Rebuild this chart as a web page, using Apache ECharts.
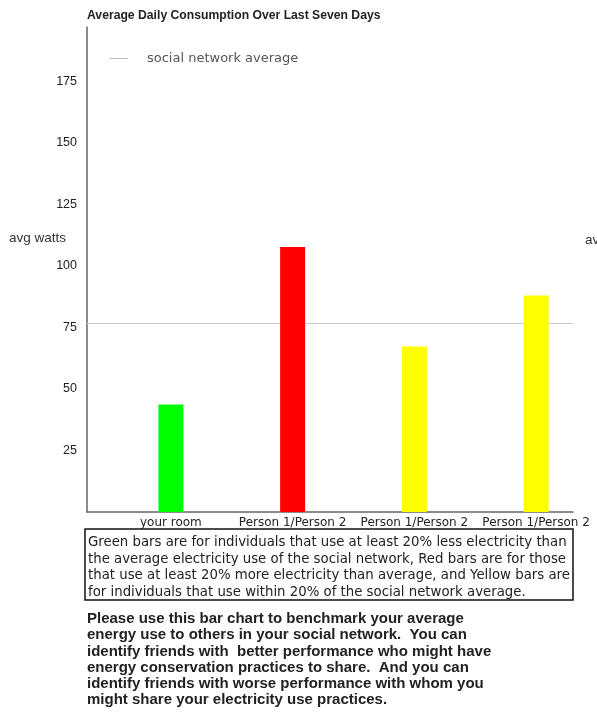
<!DOCTYPE html>
<html>
<head>
<meta charset="utf-8">
<script src="https://cdn.jsdelivr.net/npm/echarts@6/dist/echarts.min.js"></script>
<style>
  html, body { margin: 0; padding: 0; background: #fff; }
  .echarts_1 { width: 597px; height: 713px; }
</style>
</head>
<body>
<div class="echarts_1"></div>
<script>
// data
var categories = ['your room', 'Person 1/Person 2', 'Person 1/Person 2', 'Person 1/Person 2'];
var avgWatts = [43.7, 107.6, 67.2, 87.9];
var barColors = ['#00ff00', '#ff0000', '#ffff00', '#ffff00'];
var networkAverage = 76.6;
var yTicks = [25, 50, 75, 100, 125, 150, 175];

var noteLines = [
  'Green bars are for individuals that use at least 20% less electricity than',
  'the average electricity use of the social network, Red bars are for those',
  'that use at least 20% more electricity than average, and Yellow bars are',
  'for individuals that use within 20% of the social network average.'
];
var adviceLines = [
  'Please use this bar chart to benchmark your average',
  'energy use to others in your social network.  You can',
  'identify friends with  better performance who might have',
  'energy conservation practices to share.  And you can',
  'identify friends with worse performance with whom you',
  'might share your electricity use practices.'
];

var chart = echarts.init(document.querySelector('.echarts_1'));

var font = 'Liberation Sans, Arial, sans-serif';
var dvs = 'DejaVu Sans, sans-serif';

var option = {
  backgroundColor: '#fff',
  animation: false,
  title: {
    text: 'Average Daily Consumption Over Last Seven Days',
    left: 87, top: 10, padding: 0,
    textStyle: { fontFamily: font, fontSize: 12.2, fontWeight: 'bold', color: '#222' }
  },
  legend: {
    data: ['social network average'],
    left: 110, top: 52, padding: 0,
    icon: 'rect', itemWidth: 18, itemHeight: 1,
    textStyle: { fontFamily: dvs, fontSize: 13, color: '#555', padding: [0, 0, 0, 14] }
  },
  grid: [
    { left: 87, right: 24, top: 27, bottom: 201 },
    { left: 110, right: 0, top: 27, bottom: 201 }
  ],
  xAxis: [
    {
      gridIndex: 0, type: 'category', data: categories,
      axisLine: { onZero: false, lineStyle: { color: '#666', width: 1.5 } },
      axisTick: { show: false }, axisLabel: { show: false }
    },
    {
      gridIndex: 1, type: 'category', data: categories,
      axisLine: { show: false }, axisTick: { show: false },
      axisLabel: { interval: 0, margin: 5, fontFamily: dvs, fontSize: 12, color: '#222' }
    }
  ],
  yAxis: [
    {
      gridIndex: 0, type: 'value', min: 0, max: 197,
      axisLine: { show: true, lineStyle: { color: '#666', width: 1.5 } },
      axisTick: { show: false },
      splitLine: { show: false },
      axisLabel: { customValues: yTicks, margin: 10, fontFamily: font, fontSize: 12.5, color: '#222' }
    },
    {
      gridIndex: 1, type: 'value', min: 0, max: 197, show: false
    }
  ],
  series: [
    {
      name: 'social network average',
      type: 'line', xAxisIndex: 0, yAxisIndex: 0,
      data: [],
      z: 1,
      itemStyle: { color: '#bbb' },
      lineStyle: { color: '#bbb' },
      markLine: {
        z: 1,
        silent: true, symbol: 'none',
        label: { show: false },
        lineStyle: { color: '#ccc', type: 'solid', width: 1 },
        data: [{ yAxis: networkAverage }]
      }
    },
    {
      name: 'avg watts',
      type: 'bar', xAxisIndex: 1, yAxisIndex: 1,
      barWidth: 25, z: 3,
      data: avgWatts.map(function (v, i) {
        return { value: v, itemStyle: { color: barColors[i] } };
      })
    }
  ],
  graphic: [
    { type: 'text', left: 9, top: 231, style: { text: 'avg watts', font: '13.5px ' + font, fill: '#333' } },
    { type: 'text', left: 585, top: 233, style: { text: 'avg watts', font: '13.5px ' + font, fill: '#333' } },
    { type: 'rect', shape: { x: 85, y: 529, width: 488, height: 71 }, style: { fill: 'none', stroke: '#111', lineWidth: 1.5 } },
    { type: 'text', left: 88, top: 534, style: { text: noteLines.join('\n'), font: '13.3px ' + dvs, lineHeight: 16.7, fill: '#222' } },
    { type: 'text', left: 87, top: 611, style: { text: adviceLines.join('\n'), font: 'bold 15px ' + font, lineHeight: 16.2, fill: '#222' } }
  ]
};

chart.setOption(option);
</script>
</body>
</html>
